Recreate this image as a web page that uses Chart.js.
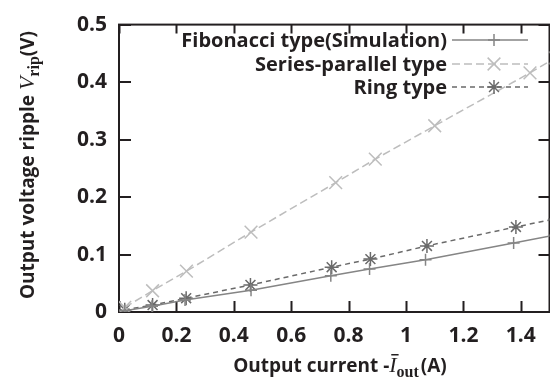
<!DOCTYPE html>
<html>
<head>
<meta charset="utf-8">
<script src="https://cdn.jsdelivr.net/npm/chart.js@4.4.0/dist/chart.umd.min.js"></script>
<style>
  html, body { margin: 0; padding: 0; background: #fff; overflow: hidden; }
  #wrap { width: 560px; height: 383px; }
</style>
</head>
<body>
<div id="wrap"><canvas id="myChart"></canvas></div>
<script>
// values (x: output current in A, y: ripple in V)
const fibX = [0.02, 0.115, 0.23, 0.46, 0.738, 0.873, 1.068, 1.375, 1.52];
const fibY = [0.002, 0.010, 0.021, 0.038, 0.063, 0.075, 0.091, 0.120, 0.134];
const spX = [0.02, 0.117, 0.235, 0.46, 0.755, 0.893, 1.1, 1.432, 1.52];
const spY = [0.008, 0.037, 0.071, 0.139, 0.225, 0.266, 0.324, 0.416, 0.442];
const ringX = [0.02, 0.117, 0.234, 0.458, 0.741, 0.876, 1.073, 1.383, 1.52];
const ringY = [0.004, 0.012, 0.024, 0.047, 0.078, 0.092, 0.115, 0.148, 0.162];

const seriesNames = ['Fibonacci type(Simulation)', 'Series-parallel type', 'Ring type'];
const xTicks = [0, 0.2, 0.4, 0.6, 0.8, 1, 1.2, 1.4];
const yTicks = [0, 0.1, 0.2, 0.3, 0.4, 0.5];

const SANS = '"Open Sans", sans-serif';
const SERIF = '"Liberation Serif", "DejaVu Serif", serif';
const INK = '#231f20';

const toPts = (xs, ys) => xs.map((x, i) => ({ x: x, y: ys[i] }));

// gnuplot style frame with inward ticks on all four sides
const frame = {
  id: 'frame',
  beforeDatasetsDraw(chart) {
    const { ctx, chartArea: a, scales } = chart;
    ctx.save();
    ctx.strokeStyle = INK;
    ctx.lineWidth = 2;
    ctx.beginPath();
    xTicks.forEach(v => {
      const px = Math.round(scales.x.getPixelForValue(v)) + 0.5;
      ctx.moveTo(px, a.bottom); ctx.lineTo(px, a.bottom - 11);
      ctx.moveTo(px, a.top); ctx.lineTo(px, a.top + 9);
    });
    yTicks.forEach(v => {
      const py = Math.round(scales.y.getPixelForValue(v));
      ctx.moveTo(a.left, py); ctx.lineTo(a.left + 12, py);
      ctx.moveTo(a.right, py); ctx.lineTo(a.right - 11, py);
    });
    ctx.stroke();
    ctx.strokeRect(a.left, a.top, a.right - a.left, a.bottom - a.top);
    ctx.restore();
  }
};

// legend: right aligned text, sample line + marker on the right
const keyBox = {
  id: 'keyBox',
  afterDraw(chart) {
    const ctx = chart.ctx;
    const rows = [40, 64, 87];
    ctx.save();
    chart.data.datasets.forEach((ds, i) => {
      const y = rows[i];
      ctx.font = 'bold 20px ' + SANS;
      ctx.fillStyle = INK;
      ctx.textAlign = 'right';
      ctx.textBaseline = 'middle';
      ctx.fillText(ds.label, 447, y + 1);
      ctx.strokeStyle = ds.borderColor;
      ctx.lineWidth = ds.borderWidth;
      ctx.setLineDash(ds.borderDash || []);
      ctx.beginPath();
      ctx.moveTo(452, y); ctx.lineTo(528, y);
      ctx.stroke();
      ctx.setLineDash([]);
      ctx.lineWidth = ds.pointBorderWidth;
      ctx.strokeStyle = ds.pointBorderColor;
      Chart.helpers.drawPoint(ctx, {
        pointStyle: ds.pointStyle, radius: ds.pointRadius, rotation: 0, borderWidth: ds.pointBorderWidth
      }, 494, y);
    });
    ctx.restore();
  }
};

function drawRich(ctx, parts, cx, baseY) {
  let total = 0;
  parts.forEach(p => { ctx.font = p.font; p.w = ctx.measureText(p.text).width; total += p.w + (p.gap || 0); });
  let x = cx - total / 2;
  ctx.textAlign = 'left';
  ctx.textBaseline = 'alphabetic';
  parts.forEach(p => {
    ctx.font = p.font;
    ctx.fillText(p.text, x, baseY + (p.dy || 0));
    if (p.bar) {
      ctx.fillRect(x + 2, baseY - 18, p.w, 1.5);
    }
    x += p.w + (p.gap || 0);
  });
}

const axisTitles = {
  id: 'axisTitles',
  afterDraw(chart) {
    const ctx = chart.ctx;
    ctx.save();
    ctx.fillStyle = INK;
    drawRich(ctx, [
      { text: 'Output current -', font: 'bold 19px ' + SANS },
      { text: 'I', font: 'italic 22px ' + SERIF, bar: true },
      { text: 'out', font: 'bold 16px ' + SERIF, dy: 5, gap: 2 },
      { text: '(A)', font: 'bold 19px ' + SANS }
    ], 340, 372);
    ctx.translate(34, 165);
    ctx.rotate(-Math.PI / 2);
    drawRich(ctx, [
      { text: 'Output voltage ripple ', font: 'bold 19px ' + SANS },
      { text: 'V', font: 'italic 22px ' + SERIF },
      { text: 'rip', font: 'bold 16px ' + SERIF, dy: 5 },
      { text: '(V)', font: 'bold 19px ' + SANS }
    ], 0, 0);
    ctx.restore();
  }
};

const config = {
  type: 'scatter',
  data: {
    datasets: [
      {
        label: seriesNames[0],
        data: toPts(fibX, fibY),
        showLine: true,
        borderColor: '#858585',
        borderWidth: 1.5,
        pointStyle: 'cross',
        pointRadius: 6,
        pointBorderColor: '#858585',
        pointBorderWidth: 1.5,
      },
      {
        label: seriesNames[1],
        data: toPts(spX, spY),
        showLine: true,
        borderColor: '#bdbdbd',
        borderWidth: 1.5,
        borderDash: [8, 4],
        pointStyle: 'crossRot',
        pointRadius: 9,
        pointBorderColor: '#bdbdbd',
        pointBorderWidth: 1.5,
      },
      {
        label: seriesNames[2],
        data: toPts(ringX, ringY),
        showLine: true,
        borderColor: '#6a6a6a',
        borderWidth: 1.5,
        borderDash: [5, 4],
        pointStyle: 'star',
        pointRadius: 7,
        pointBorderColor: '#6a6a6a',
        pointBorderWidth: 1.5,
      },
    ],
  },
  options: {
    responsive: true,
    maintainAspectRatio: false,
    animation: false,
    layout: { padding: { top: 19, right: 4, left: 0, bottom: 0 } },
    plugins: {
      legend: { display: false },
      tooltip: { enabled: false },
    },
    scales: {
      x: {
        type: 'linear',
        min: 0,
        max: 1.5,
        afterBuildTicks: (s) => { s.ticks = xTicks.map(v => ({ value: v })); },
        afterFit: (s) => { s.height = 71; },
        grid: { display: false, drawTicks: false },
        border: { display: false },
        ticks: {
          padding: 11,
          color: INK,
          font: { family: SANS, size: 21, weight: 'bold' },
          callback: (v) => String(v),
        },
      },
      y: {
        min: 0,
        max: 0.5,
        afterBuildTicks: (s) => { s.ticks = yTicks.map(v => ({ value: v })); },
        afterFit: (s) => { s.width = 119; },
        grid: { display: false, drawTicks: false },
        border: { display: false },
        ticks: {
          padding: 12,
          color: INK,
          font: { family: SANS, size: 21, weight: 'bold' },
          callback: (v) => String(v),
        },
      },
    },
  },
  plugins: [frame, keyBox, axisTitles],
};

new Chart(document.getElementById('myChart'), config);
</script>
</body>
</html>
